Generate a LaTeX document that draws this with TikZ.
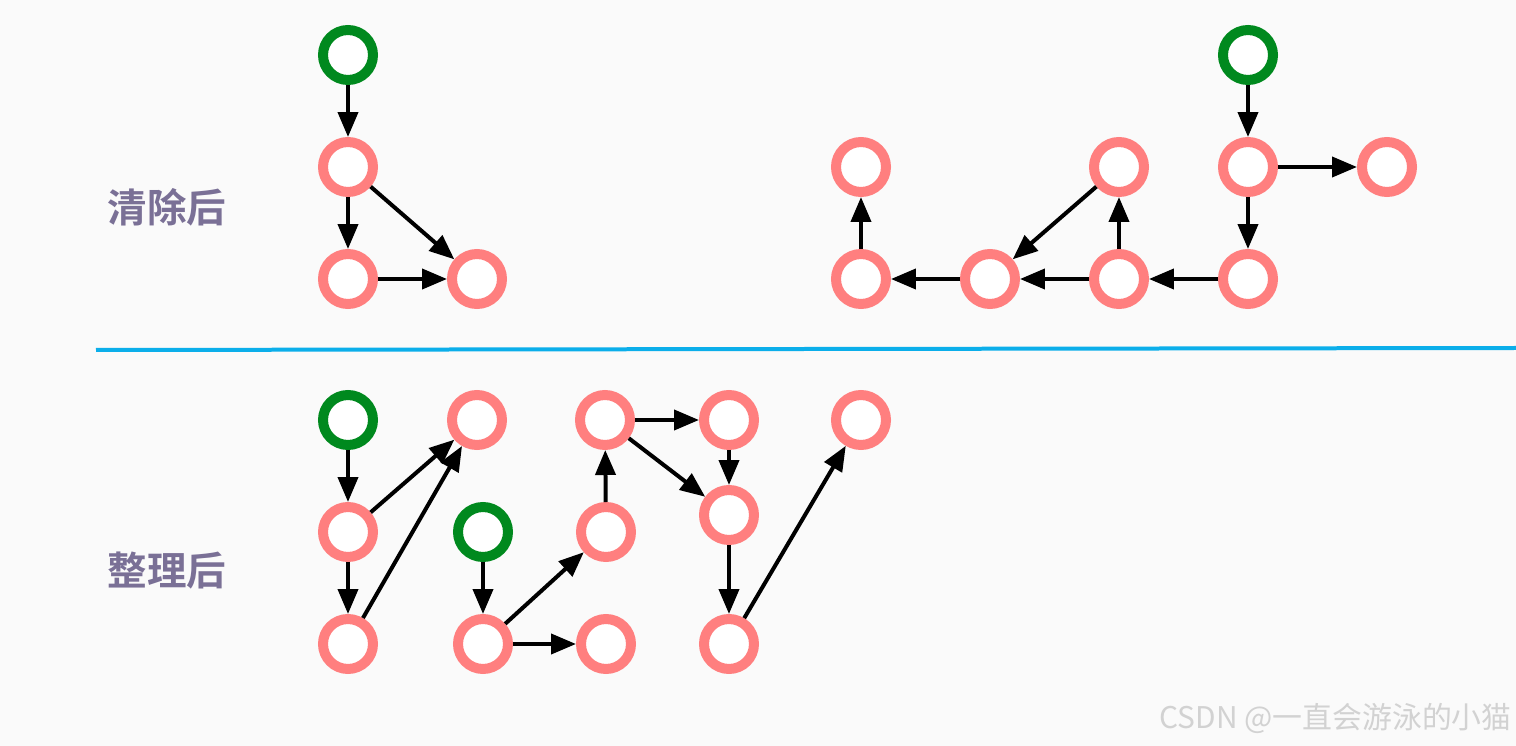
\documentclass[tikz,border=0pt]{standalone}
\usepackage{fontspec}
\newfontfamily\cjk{Noto Sans CJK SC}
\newfontfamily\cjkb{Noto Sans CJK SC Bold}
\usetikzlibrary{arrows.meta}
\definecolor{bg}{HTML}{FAFAFA}
\definecolor{pinkring}{HTML}{FF7F7F}
\definecolor{greenring}{HTML}{00891E}
\definecolor{sepblue}{HTML}{0BAEEA}
\definecolor{labelcol}{HTML}{7A7096}
\definecolor{wmark}{HTML}{D2D2D2}
\tikzset{
  px/.style={x=0.02cm,y=-0.02cm},
  ring/.style={circle,draw=pinkring,fill=white,line width=0.2cm,minimum size=1cm,inner sep=0pt},
  startring/.style={ring,draw=greenring},
  link/.style={-{Triangle[length=0.5cm,width=0.4cm]},line width=0.08cm,black},
  sidelabel/.style={font=\cjkb\fontsize{22.5}{22.5}\selectfont,text=labelcol},
}
\begin{document}
\begin{tikzpicture}[px]
\fill[bg] (0,0) rectangle (1516,746);
\useasboundingbox (0,0) rectangle (1516,746);
% separator
\coordinate (s1) at (96,350);
\coordinate (s2) at (1516,348);
\draw[sepblue,line width=0.08cm] (s1) -- (s2);
% labels
\node[sidelabel] (lab1) at (167,207) {清除后};
\node[sidelabel] (lab2) at (167,571) {整理后};
% top-left
\node[startring] (g1) at (348,55) {};
\node[ring] (a) at (348,167) {};
\node[ring] (b) at (348,279) {};
\node[ring] (c) at (477,279) {};
% top-right
\node[ring] (d) at (861,167) {};
\node[ring] (e) at (861,279) {};
\node[ring] (f) at (990,279) {};
\node[ring] (h) at (1119,167) {};
\node[ring] (i) at (1119,279) {};
\node[startring] (g2) at (1248,55) {};
\node[ring] (j) at (1248,167) {};
\node[ring] (k) at (1387,167) {};
\node[ring] (l) at (1248,279) {};
% bottom
\node[startring] (g3) at (348,420) {};
\node[ring] (m) at (348,532) {};
\node[ring] (n) at (348,644) {};
\node[ring] (o) at (477,420) {};
\node[startring] (g4) at (483,532) {};
\node[ring] (p) at (483,644) {};
\node[ring] (q) at (606,532) {};
\node[ring] (r) at (606,644) {};
\node[ring] (s) at (605,420) {};
\node[ring] (t) at (729,420) {};
\node[ring] (u) at (729,515) {};
\node[ring] (v) at (729,644) {};
\node[ring] (w) at (861,420) {};
% edges top
\draw[link] (g1) -- (a);
\draw[link] (a) -- (b);
\draw[link] (a) -- (c);
\draw[link] (b) -- (c);
\draw[link] (g2) -- (j);
\draw[link] (j) -- (k);
\draw[link] (j) -- (l);
\draw[link] (l) -- (i);
\draw[link] (i) -- (f);
\draw[link] (f) -- (e);
\draw[link] (e) -- (d);
\draw[link] (i) -- (h);
\draw[link] (h) -- (f);
% edges bottom
\draw[link] (g3) -- (m);
\draw[link] (m) -- (n);
\draw[link] (m) -- (o);
\draw[link] (n) -- (o);
\draw[link] (g4) -- (p);
\draw[link] (p) -- (q);
\draw[link] (p) -- (r);
\draw[link] (q) -- (s);
\draw[link] (s) -- (t);
\draw[link] (s) -- (u);
\draw[link] (t) -- (u);
\draw[link] (u) -- (v);
\draw[link] (v) -- (w);
% watermark
\node[anchor=east,font=\cjk\fontsize{17}{17}\selectfont,text=wmark,inner sep=0pt] (wm) at (1512,718) {CSDN @一直会游泳的小猫};
\end{tikzpicture}
\end{document}
